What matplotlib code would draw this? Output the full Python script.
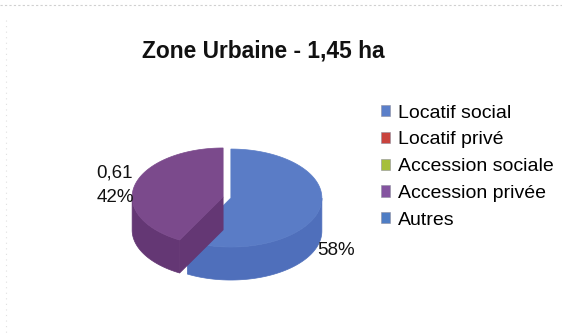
import numpy as np
import matplotlib
matplotlib.use("Agg")
import matplotlib.pyplot as plt
from matplotlib.patches import Polygon, Patch

plt.rcParams['font.family'] = ['Liberation Sans', 'DejaVu Sans']

# Surface per category (ha)
categories = ["Locatif social", "Locatif privé", "Accession sociale",
              "Accession privée", "Autres"]
surfaces = [0.84, 0.0, 0.0, 0.61, 0.0]
legend_colors = ["#5b7fc9", "#c9433e", "#a6bf3c", "#8454a0", "#4f7dc4"]
top_colors = ["#5a7cc6", None, None, "#7b4a8c", None]
side_colors = ["#4f6fbb", None, None, "#643774", None]
title = "Zone Urbaine - 1,45 ha"

fig = plt.figure(figsize=(5.62, 3.33), dpi=100)
ax = fig.add_axes([0, 0, 1, 1])
ax.set_xlim(0, 562)
ax.set_ylim(333, 0)
ax.axis('off')

# Pseudo-3D pie geometry (axis units)
cx, cy = 227.0, 197.5
ra, rb = 91.0, 49.0
depth = 33.0
explode = 4.0

total = sum(surfaces)
slices = []
start = 90.0
for val, tc, sc in zip(surfaces, top_colors, side_colors):
    if val <= 0:
        continue
    sweep = 360.0 * val / total
    t1 = start
    t0 = start - sweep
    slices.append((t0, t1, tc, sc, val))
    start = t0


def rim(t, ox, oy, dz=0.0):
    r = np.radians(t)
    return np.column_stack([ox + ra * np.cos(r), oy - rb * np.sin(r) + dz])


# draw back slices first (purple), then the front-right one (blue)
order = sorted(slices, key=lambda s: -np.cos(np.radians((s[0] + s[1]) / 2)))
for t0, t1, tc, sc, val in order:
    mid = np.radians((t0 + t1) / 2)
    ox = cx + explode * np.cos(mid)
    oy = cy - explode * np.sin(mid) * rb / ra
    ts = np.linspace(t0, t1, 200)
    front = ts[np.sin(np.radians(ts)) <= 1e-9]
    # outer wall
    if len(front) > 1:
        topp = rim(front, ox, oy)
        botp = rim(front[::-1], ox, oy, depth)
        ax.add_patch(Polygon(np.vstack([topp, botp]), closed=True,
                             facecolor=sc, edgecolor=sc, lw=0.5))
    # radial cut faces facing the viewer
    for edge, sgn in ((t0, -1), (t1, 1)):
        normal = np.radians(edge + sgn * 90)
        if np.sin(normal) < 0:
            p = rim(np.array([edge]), ox, oy)[0]
            face = np.array([[ox, oy], p, [p[0], p[1] + depth],
                             [ox, oy + depth]])
            ax.add_patch(Polygon(face, closed=True, facecolor=sc,
                                 edgecolor=sc, lw=0.5))
    # top face
    topface = np.vstack([[ox, oy], rim(ts, ox, oy)])
    ax.add_patch(Polygon(topface, closed=True, facecolor=tc,
                         edgecolor=tc, lw=0.5))

# data labels
ax.text(96.5, 177, "0,61", ha='left', va='baseline', fontsize=13.5,
        color='#111111')
ax.text(96.5, 202, "42%", ha='left', va='baseline', fontsize=13.5,
        color='#111111')
ax.text(317, 255, "58%", ha='left', va='baseline', fontsize=13.5,
        color='#111111')

ax.text(263, 51, title, ha='center', va='center', fontsize=16.4,
        fontweight='bold', color='#111111')

# faint frame edges
ax.plot([0, 562], [5, 5], ls=(0, (2, 2)), color='#d0d0d0', lw=0.8)
ax.plot([6, 6], [20, 333], ls=(0, (1, 4)), color='#e0e0e0', lw=0.8)

handles = [Patch(facecolor=c, edgecolor='#9090a0', lw=0.4) for c in legend_colors]
fig.legend(handles, categories, loc='upper left',
           bbox_to_anchor=(371 / 562, 1 - 95 / 333), frameon=False,
           fontsize=14, handlelength=0.5, handleheight=0.5,
           handletextpad=0.4, labelspacing=0.5, borderpad=0)

fig.savefig("out.png", dpi=100)
